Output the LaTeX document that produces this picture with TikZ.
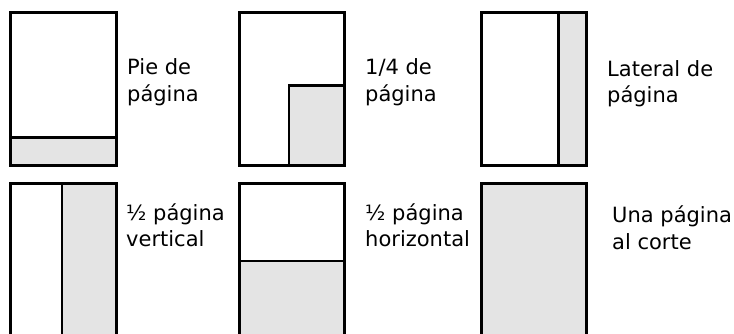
\documentclass[tikz,border=0pt]{standalone}
\usepackage{fontspec}
\setmainfont{DejaVu Sans}
\definecolor{shade}{HTML}{E4E4E4}
\begin{document}
\begin{tikzpicture}[x=1pt,y=-1pt,
  frame/.style={draw=black,line width=3pt},
  divider/.style={draw=black,line width=2.6pt},
  shaded/.style={fill=shade},
  lbl/.style={anchor=base west,inner sep=0pt,align=left,
    font=\fontsize{21}{26.7}\selectfont}]
\useasboundingbox (0,0) rectangle (734,334);
\clip (0,0) rectangle (734,334);
% row 1, box 1: footer
\fill[shaded] (10.5,137.3) rectangle (116,165.5);
\draw[divider] (10.5,137.3) -- (116,137.3);
\draw[frame] (10.5,12.5) rectangle (116,165.5);
% row 1, box 2: quarter page
\fill[shaded] (289,85.3) rectangle (344.7,165.5);
\draw[divider] (289,165.5) -- (289,85.3) -- (344.7,85.3);
\draw[frame] (239.5,12.5) rectangle (344.7,165.5);
% row 1, box 3: side
\fill[shaded] (558.3,12.5) rectangle (586.7,165.5);
\draw[divider] (558.3,12.5) -- (558.3,165.5);
\draw[frame] (481.7,12.5) rectangle (586.7,165.5);
% row 2, box 1: half vertical
\fill[shaded] (62,184) rectangle (116,345);
\draw[divider] (62,184) -- (62,345);
\draw[frame] (10.5,184) rectangle (116,345);
% row 2, box 2: half horizontal
\fill[shaded] (239.5,261) rectangle (344.7,345);
\draw[divider] (239.5,261) -- (344.7,261);
\draw[frame] (239.5,184) rectangle (344.7,345);
% row 2, box 3: full bleed
\fill[shaded] (481.7,184) rectangle (586.7,345);
\draw[frame] (481.7,184) rectangle (586.7,345);
% labels
\node[lbl] (t1) at (127,101.7) {Pie de\\página};
\node[lbl] (t2) at (365,101.7) {1/4 de\\página};
\node[lbl] (t3) at (607,103) {Lateral de\\página};
\node[lbl] (t4) at (126,246.7) {½ página\\vertical};
\node[lbl] (t5) at (365,246.7) {½ página\\horizontal};
\node[lbl] (t6) at (612,249) {Una página\\al corte};
\end{tikzpicture}
\end{document}
